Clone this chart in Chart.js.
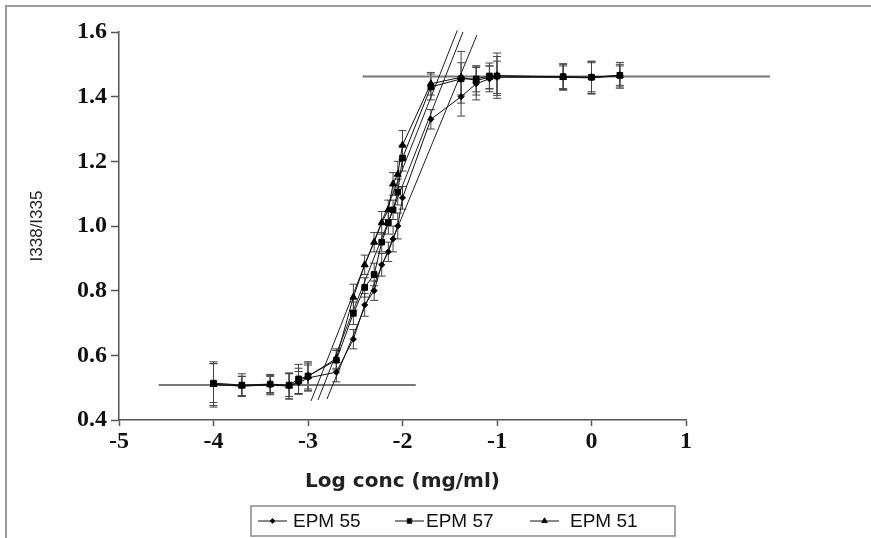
<!DOCTYPE html>
<html>
<head>
<meta charset="utf-8">
<script src="https://cdn.jsdelivr.net/npm/chart.js@4.4.1/dist/chart.umd.min.js"></script>
<style>
  html, body { margin: 0; padding: 0; background: #fff; }
  #wrap { width: 871px; height: 538px; }
</style>
</head>
<body>
<div id="wrap"><canvas id="curveChart" width="871" height="538"></canvas></div>
<script>
// log concentration (mg/ml), shared by the three samples
const logConc = [-4.0, -3.7, -3.4, -3.2, -3.1, -3.0, -2.7, -2.52, -2.4, -2.3, -2.22, -2.15, -2.1, -2.05, -2.0,
                 -1.7, -1.38, -1.22, -1.08, -1.0, -0.3, 0.0, 0.3];

// I338/I335 ratios
const epm55 = [0.51, 0.505, 0.508, 0.505, 0.515, 0.53, 0.548, 0.65, 0.756, 0.80, 0.88, 0.92, 0.96, 1.00, 1.087,
               1.33, 1.40, 1.44, 1.455, 1.46, 1.46, 1.458, 1.465];
const epm57 = [0.514, 0.508, 0.511, 0.508, 0.527, 0.536, 0.585, 0.73, 0.81, 0.85, 0.95, 1.01, 1.05, 1.105, 1.21,
               1.43, 1.455, 1.455, 1.464, 1.464, 1.462, 1.46, 1.466];
const epm51 = [0.51, 0.505, 0.51, 0.505, 0.52, 0.535, 0.59, 0.78, 0.88, 0.95, 1.01, 1.05, 1.13, 1.16, 1.25,
               1.44, 1.46, 1.45, 1.46, 1.465, 1.46, 1.46, 1.465];

// standard deviations
const epm55Err = [0.07, 0.03, 0.03, 0.04, 0.035, 0.04, 0.03, 0.03, 0.035, 0.03, 0.035, 0.03, 0.04, 0.04, 0.035,
                  0.03, 0.06, 0.05, 0.04, 0.05, 0.04, 0.05, 0.035];
const epm57Err = [0.06, 0.035, 0.03, 0.035, 0.045, 0.04, 0.03, 0.035, 0.03, 0.035, 0.03, 0.035, 0.03, 0.04, 0.04,
                  0.04, 0.05, 0.04, 0.04, 0.06, 0.04, 0.045, 0.04];
const epm51Err = [0.065, 0.03, 0.025, 0.04, 0.04, 0.045, 0.03, 0.04, 0.03, 0.03, 0.035, 0.03, 0.035, 0.04, 0.045,
                  0.035, 0.08, 0.045, 0.035, 0.07, 0.035, 0.05, 0.03];

// segmental fits: lower plateau, slope lines, upper plateau
const lowPlateauX = [-4.58, -1.86];
const lowPlateauY = [0.508, 0.508];
const highPlateauX = [-2.42, 1.89];
const highPlateauY = [1.462, 1.462];
const slope51X = [-2.968, -1.42];
const slope51Y = [0.459, 1.605];
const slope57X = [-2.894, -1.36];
const slope57Y = [0.462, 1.60];
const slope55X = [-2.799, -1.212];
const slope55Y = [0.465, 1.591];

const yTicks = [0.4, 0.6, 0.8, 1.0, 1.2, 1.4, 1.6];
const xTicks = [-5, -4, -3, -2, -1, 0, 1];

function pts(xs, ys) {
  return xs.map((x, i) => ({ x: x, y: ys[i] }));
}

function series(label, ys, errs, style, radius) {
  return {
    label: label,
    data: pts(logConc, ys),
    errors: errs,
    inLegend: true,
    showLine: true,
    borderColor: "#111",
    borderWidth: 1,
    backgroundColor: "#000",
    pointBackgroundColor: "#000",
    pointBorderColor: "#000",
    pointStyle: style,
    pointRadius: radius,
    tension: 0,
  };
}

function fitLine(xs, ys, color, width) {
  return {
    label: "",
    data: pts(xs, ys),
    showLine: true,
    borderColor: color,
    borderWidth: width,
    pointRadius: 0,
    clip: false,
  };
}

const errorBars = {
  id: "errorBars",
  beforeDatasetsDraw(chart) {
    const ctx = chart.ctx;
    const yScale = chart.scales.y;
    ctx.save();
    ctx.strokeStyle = "#444";
    ctx.lineWidth = 1;
    chart.data.datasets.forEach((ds, i) => {
      if (!ds.errors) return;
      chart.getDatasetMeta(i).data.forEach((pt, j) => {
        const v = ds.data[j].y;
        const e = ds.errors[j];
        const top = yScale.getPixelForValue(v + e);
        const bot = yScale.getPixelForValue(v - e);
        ctx.beginPath();
        ctx.moveTo(pt.x, top);
        ctx.lineTo(pt.x, bot);
        ctx.moveTo(pt.x - 4, top);
        ctx.lineTo(pt.x + 4, top);
        ctx.moveTo(pt.x - 4, bot);
        ctx.lineTo(pt.x + 4, bot);
        ctx.stroke();
      });
    });
    ctx.restore();
  },
};

const frame = {
  id: "frame",
  beforeDraw(chart) {
    const ctx = chart.ctx;
    ctx.save();
    ctx.fillStyle = "#fff";
    ctx.fillRect(0, 0, chart.width, chart.height);
    ctx.strokeStyle = "#9a9a9a";
    ctx.lineWidth = 2;
    ctx.beginPath();
    ctx.moveTo(chart.width, 6);
    ctx.lineTo(6, 6);
    ctx.lineTo(6, chart.height);
    ctx.stroke();
    ctx.restore();
  },
};

const legendBox = {
  id: "legendBox",
  afterDraw(chart) {
    const ctx = chart.ctx;
    const lineStart = [258, 395, 530];
    const textStart = [293, 426, 570];
    const y = 521;
    ctx.save();
    ctx.strokeStyle = "#8a8a8a";
    ctx.lineWidth = 1.5;
    ctx.strokeRect(251, 506, 424, 30);
    let k = 0;
    chart.data.datasets.forEach((ds) => {
      if (!ds.inLegend) return;
      const x0 = lineStart[k];
      ctx.strokeStyle = "#111";
      ctx.lineWidth = 1;
      ctx.beginPath();
      ctx.moveTo(x0, y);
      ctx.lineTo(x0 + 29, y);
      ctx.stroke();
      ctx.fillStyle = "#000";
      Chart.helpers.drawPoint(ctx, { pointStyle: ds.pointStyle, radius: ds.pointRadius * 0.8, borderWidth: 1, rotation: 0 }, x0 + 14.5, y);
      ctx.font = '19px "Liberation Sans"';
      ctx.textBaseline = "middle";
      ctx.textAlign = "left";
      ctx.fillStyle = "#111";
      ctx.fillText(ds.label, textStart[k], y + 1);
      k++;
    });
    ctx.restore();
  },
};

document.addEventListener("DOMContentLoaded", function () {
  const ctx = document.getElementById("curveChart").getContext("2d");
  new Chart(ctx, {
    type: "scatter",
    data: {
      datasets: [
        series("EPM 55", epm55, epm55Err, "rectRot", 3),
        series("EPM 57", epm57, epm57Err, "rect", 4),
        series("EPM 51", epm51, epm51Err, "triangle", 4),
        fitLine(slope51X, slope51Y, "#222", 1),
        fitLine(slope57X, slope57Y, "#222", 1),
        fitLine(slope55X, slope55Y, "#222", 1),
        fitLine(lowPlateauX, lowPlateauY, "#777", 2),
        fitLine(highPlateauX, highPlateauY, "#777", 2),
      ],
    },
    plugins: [frame, errorBars, legendBox],
    options: {
      responsive: false,
      animation: false,
      events: [],
      layout: {
        padding: { left: 10, top: 32, right: 185, bottom: 38 },
      },
      plugins: {
        legend: { display: false },
        tooltip: { enabled: false },
      },
      scales: {
        x: {
          type: "linear",
          min: xTicks[0],
          max: xTicks[xTicks.length - 1],
          afterBuildTicks: (scale) => {
            scale.ticks = xTicks.map((v) => ({ value: v }));
          },
          afterFit: (scale) => {
            scale.height = 80;
          },
          grid: { display: true, drawOnChartArea: false, drawTicks: true, tickLength: 6, color: "#555", tickWidth: 1.5 },
          border: { display: true, color: "#555", width: 1.5 },
          ticks: {
            padding: 1,
            color: "#111",
            font: { family: '"Liberation Serif"', size: 24, weight: "bold" },
            callback: (v) => String(v),
          },
          title: {
            display: true,
            text: "Log conc (mg/ml)",
            color: "#222",
            padding: { top: 0, bottom: 6 },
            font: { family: '"DejaVu Sans"', size: 20, weight: "bold" },
          },
        },
        y: {
          type: "linear",
          min: yTicks[0],
          max: yTicks[yTicks.length - 1],
          afterBuildTicks: (scale) => {
            scale.ticks = yTicks.map((v) => ({ value: v }));
          },
          afterFit: (scale) => {
            scale.width = 109;
          },
          grid: { display: true, drawOnChartArea: false, drawTicks: true, tickLength: 8, color: "#555", tickWidth: 1.5 },
          border: { display: true, color: "#555", width: 1.5 },
          ticks: {
            padding: 4,
            color: "#111",
            font: { family: '"Liberation Serif"', size: 24, weight: "bold" },
            callback: (v) => Number(v).toFixed(1),
          },
          title: {
            display: true,
            text: "I338/I335",
            color: "#222",
            padding: { top: 17, bottom: 0 },
            font: { family: '"Liberation Sans"', size: 17 },
          },
        },
      },
    },
  });
});
</script>
</body>
</html>
